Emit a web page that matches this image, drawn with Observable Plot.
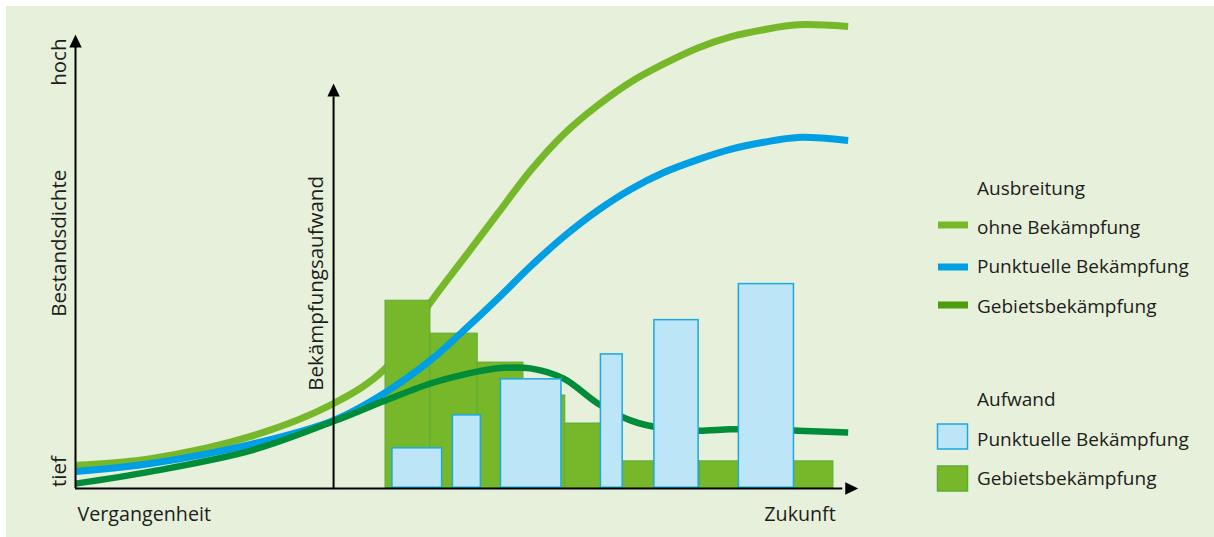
<!DOCTYPE html>
<html><head><meta charset="utf-8">
<script src="https://cdn.jsdelivr.net/npm/d3@7"></script>
<script src="https://cdn.jsdelivr.net/npm/@observablehq/plot@0.6"></script>
<style>
html,body{margin:0;padding:0;background:#fff;}
#wrap{position:relative;width:1214px;height:537px;background:#fff;overflow:hidden;}
#panel{position:absolute;left:6px;top:6px;right:0;bottom:0;background:#e7f0db;}
#wrap svg{position:absolute;left:0;top:0;}
</style></head><body><div id="wrap"><div id="panel"></div></div>
<script>
// ---- data (time 0 = Vergangenheit … 100 = Zukunft; level 0 = tief … 100 = hoch)
const time = [0, 9.7, 22.6, 33.3, 40.0, 45.8, 50.1, 54.5, 58.7, 63.0, 67.4, 71.6, 75.9, 80.3, 84.5, 88.8, 93.2, 99.7];
const ohneBekaempfung       = [5.2, 6.7, 11.7, 19.1, 27.0, 41.8, 51.7, 61.8, 71.4, 79.6, 86.1, 91.3, 95.4, 99.0, 101.5, 103.1, 104.2, 103.8];
const punktuelleBekaempfung = [3.8, 5.6, 9.9, 15.3, 21.6, 28.8, 35.5, 42.7, 49.9, 56.6, 62.5, 67.2, 71.0, 73.9, 76.2, 77.8, 78.9, 78.2];
const gebietsBekaempfung    = [1.1, 3.8, 8.5, 15.1, 19.8, 23.6, 25.6, 27.0, 27.0, 24.7, 19.1, 15.3, 13.5, 13.0, 13.3, 13.3, 13.0, 12.6];

// Aufwand (Bekämpfungsaufwand) bars
const gebietStart   = [40.0, 45.8, 51.9, 57.8, 63.2, 69.3, 74.8, 80.6, 86.5, 92.3];
const gebietEnd     = [45.8, 51.9, 57.8, 63.2, 69.3, 74.8, 80.6, 86.5, 92.3, 97.8];
const gebietAufwand = [42.2, 34.8, 28.3, 20.9, 14.6, 6.1, 6.1, 6.1, 6.1, 6.1];
const punktStart    = [40.8, 48.6, 54.8, 67.7, 74.6, 85.5];
const punktEnd      = [47.4, 52.4, 62.8, 70.7, 80.5, 92.8];
const punktAufwand  = [9.2, 16.6, 24.7, 30.3, 38.0, 46.1];

// axis / legend texts
const yLabel = "Bestandsdichte", yLow = "tief", yHigh = "hoch";
const y2Label = "Bekämpfungsaufwand";
const xLow = "Vergangenheit", xHigh = "Zukunft";
const legendTitle1 = "Ausbreitung";
const legendLines = ["ohne Bekämpfung", "Punktuelle Bekämpfung", "Gebietsbekämpfung"];
const legendTitle2 = "Aufwand";
const legendBoxes = ["Punktuelle Bekämpfung", "Gebietsbekämpfung"];

// ---- derived tables
const curveTable = (vals) => time.map((t, i) => ({t, v: vals[i]}));
const gebietBars = gebietStart.map((s, i) => ({s, e: gebietEnd[i], v: gebietAufwand[i]}));
const punktBars = punktStart.map((s, i) => ({s, e: punktEnd[i], v: punktAufwand[i]}));

const C = {
  ohne: "#77b82b", punkt: "#009fe3", gebiet: "#008c39", gebietLegend: "#4c9c0d",
  barGreen: "#76b82a", barGreenStroke: "#5eac35", barBlue: "#bde5f8", barBlueStroke: "#1aa8e2",
  ink: "#1d1d1b"
};

const arrowUp = {draw(ctx, size) { const h = Math.sqrt(size / Math.PI), w = h * 0.95;
  ctx.moveTo(0, 0); ctx.lineTo(-w / 2, h); ctx.lineTo(w / 2, h); ctx.closePath(); }};
const arrowRight = {draw(ctx, size) { const h = Math.sqrt(size / Math.PI), w = h * 0.95;
  ctx.moveTo(0, 0); ctx.lineTo(-h, -w / 2); ctx.lineTo(-h, w / 2); ctx.closePath(); }};

const lineOpts = (color, w) => ({x: "t", y: "v", stroke: color, strokeWidth: w, curve: "catmull-rom", strokeLinecap: "butt"});
const vText = (label, x, y, dx) => Plot.text([label], {x, y, text: d => d, rotate: -90, dx, lineAnchor: "bottom", textAnchor: "middle", fill: C.ink, fontSize: 20.5});

const chart = Plot.plot({
  width: 1214, height: 537,
  marginLeft: 0, marginRight: 0, marginTop: 0, marginBottom: 0,
  x: {domain: [0, 100], range: [75, 850], axis: null},
  y: {domain: [0, 100], range: [488, 43], axis: null},
  style: {background: "transparent", fontFamily: "'Open Sans', sans-serif", fontSize: "19px", color: C.ink, overflow: "visible"},
  marks: [
    Plot.line(curveTable(ohneBekaempfung), lineOpts(C.ohne, 7)),
    Plot.rect(gebietBars, {x1: "s", x2: "e", y1: 0, y2: "v", fill: C.barGreen, stroke: C.barGreenStroke, strokeWidth: 1}),
    Plot.line(curveTable(punktuelleBekaempfung), lineOpts(C.punkt, 7)),
    Plot.line(curveTable(gebietsBekaempfung), lineOpts(C.gebiet, 6.5)),
    Plot.rect(punktBars, {x1: "s", x2: "e", y1: 0, y2: "v", fill: C.barBlue, stroke: C.barBlueStroke, strokeWidth: 1.5, inset: 0.75}),
    // axes
    Plot.ruleX([0], {y1: 0, y2: 100, stroke: "#000", strokeWidth: 2}),
    Plot.ruleX([33.3], {y1: 0, y2: 88, stroke: "#000", strokeWidth: 2}),
    Plot.ruleY([0], {x1: 0, x2: 99, stroke: "#000", strokeWidth: 2}),
    Plot.dot([{x: 0, y: 102}, {x: 33.3, y: 91}], {x: "x", y: "y", symbol: arrowUp, r: 13, fill: "#000", stroke: null}),
    Plot.dot([{x: 101, y: 0}], {x: "x", y: "y", symbol: arrowRight, r: 13, fill: "#000", stroke: null}),
    // axis texts
    vText(yHigh, 0, 95.8, -10),
    vText(yLabel, 0, 55.1, -10),
    vText(yLow, 0, 3.8, -10),
    vText(y2Label, 33.3, 46.1, -11),
    Plot.text([xLow], {x: 0, y: 0, text: d => d, dx: 2, dy: 32, lineAnchor: "bottom", textAnchor: "start", fill: C.ink, fontSize: 19.7}),
    Plot.text([xHigh], {x: 98.1, y: 0, text: d => d, dy: 32, lineAnchor: "bottom", textAnchor: "end", fill: C.ink, fontSize: 19.7})
  ]
});
document.getElementById("wrap").appendChild(chart);

// ---- legend
const lg = d3.select("#wrap").append("svg").attr("width", 1214).attr("height", 537)
  .style("font-family", "'Open Sans', sans-serif").style("font-size", "19px");
const tx = 977;
lg.append("text").attr("x", tx).attr("y", 195).attr("fill", C.ink).text(legendTitle1);
const lineColors = [C.ohne, C.punkt, C.gebietLegend];
const lineBase = [234, 273, 313], lineMid = [225, 267, 305];
legendLines.forEach((lab, i) => {
  lg.append("rect").attr("x", 938).attr("y", lineMid[i] - 3.5).attr("width", 30).attr("height", 7).attr("fill", lineColors[i]);
  lg.append("text").attr("x", tx).attr("y", lineBase[i]).attr("fill", C.ink).text(lab);
});
lg.append("text").attr("x", tx).attr("y", 406).attr("fill", C.ink).text(legendTitle2);
const boxFill = [C.barBlue, C.barGreen], boxStroke = [C.barBlueStroke, C.barGreenStroke];
const boxTop = [424, 466], boxBase = [446, 485];
legendBoxes.forEach((lab, i) => {
  lg.append("rect").attr("x", 937.5).attr("y", boxTop[i]).attr("width", 30).attr("height", 25)
    .attr("fill", boxFill[i]).attr("stroke", boxStroke[i]).attr("stroke-width", 1.5);
  lg.append("text").attr("x", tx).attr("y", boxBase[i]).attr("fill", C.ink).text(lab);
});
</script></body></html>
